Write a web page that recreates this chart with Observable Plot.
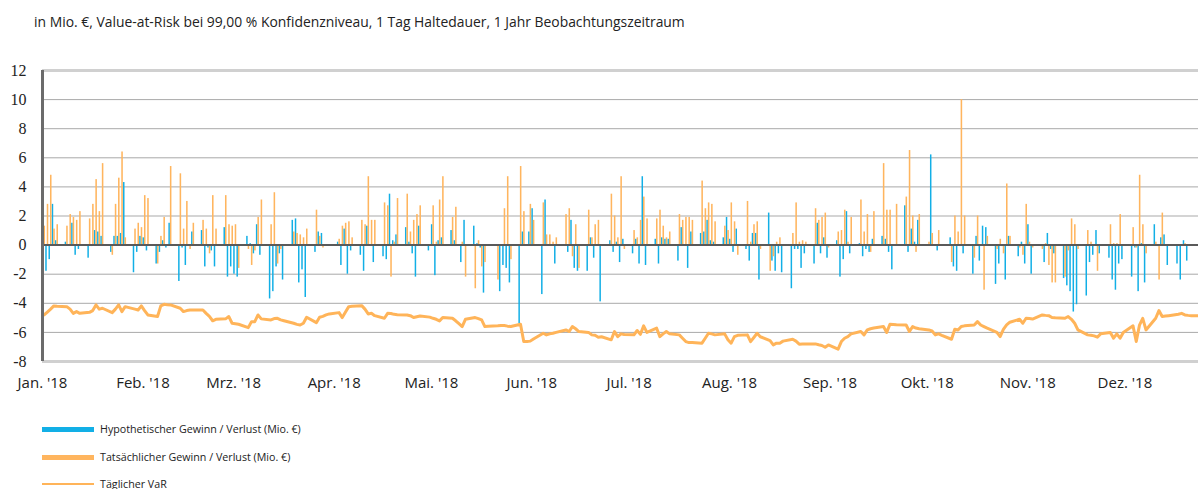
<!DOCTYPE html>
<html>
<head>
<meta charset="utf-8">
<script src="https://cdn.jsdelivr.net/npm/d3@7"></script>
<script src="https://cdn.jsdelivr.net/npm/@observablehq/plot@0.6"></script>
<style>
  html, body { margin: 0; padding: 0; background: #fff; }
  body { width: 1198px; height: 489px; overflow: hidden; font-family: "Open Sans", sans-serif; color: #222; }
  #title { height: 45px; box-sizing: border-box; padding: 12px 0 0 34px; font-size: 13.9px; white-space: nowrap; }
  #chart svg { display: block; overflow: hidden; }
  #legend { position: relative; height: 89px; font-size: 10.7px; }
  .row { position: absolute; left: 0; height: 20px; display: flex; align-items: center; }
  .sw { width: 52px; margin-left: 42px; margin-right: 6px; }
</style>
</head>
<body>
<div id="title">in Mio. €, Value-at-Risk bei 99,00 % Konfidenzniveau, 1 Tag Haltedauer, 1 Jahr Beobachtungszeitraum</div>
<div id="chart"></div>
<div id="legend"></div>
<script>
// ---- data (one value per weekday, Mon 1 Jan 2018 .. Fri 28 Dec 2018) ----
const hypothetisch = [
  -0.3,-1.8,-1.0,2.8,0.3,   0.2,0.0,1.5,-0.7,-0.3,   -0.9,-0.1,1.0,0.9,0.6,   -0.5,0.6,0.6,0.8,4.3,
  -1.9,-0.5,0.6,0.5,-0.4,   -1.3,-0.5,0.3,-0.2,1.5,  -2.5,-0.2,-1.4,0,0.9,    1.0,-1.5,-0.2,-0.4,-1.5,
  1.2,-2.2,-1.5,-2.0,-2.2,  0.6,0.1,-0.6,1.4,-0.7,   -3.7,-3.2,-1.5,-0.6,-2.4, 1.7,1.8,-2.6,-1.7,-3.6,
  -0.5,0.9,0.8,0,0,         0.2,-1.4,1.1,-2.0,-0.4,  -0.7,-1.8,1.3,0,-1.2,    -0.8,-1.0,3.5,0.3,0.7,
  1.2,0.2,-0.6,-2.2,1.3,    -0.4,1.4,-2.1,0.3,0.5,   1.0,0.3,0,-1.2,1.7,      1.3,0.1,-0.2,-3.3,0,
  0,-3.2,-1.4,-1.6,-2.6,    -5.4,0.9,0,0.9,2.5,      -3.4,3.1,0,0,-1.3,       0,-0.5,1.7,-1.6,-1.8,
  -1.8,0.5,-0.9,0,-3.9,     0.3,-0.5,0.2,-1.2,0.4,   -0.6,0.4,-1.3,4.7,-1.4,  0.4,-1.3,0.5,0.4,0.4,
  -1.1,1.2,0,-1.6,0.9,      0.8,0.9,1.7,0.3,0.2,     0.5,1.9,0.4,-0.5,1.1,    -0.3,-1.1,0.8,0.8,-2.4,
  2.2,-1.1,-1.8,-0.6,-1.9,  -3.0,-0.3,-0.3,-1.6,-0.6, -1.3,1.5,-0.6,0.5,-0.9, 0.3,-2.2,-1.0,2.3,-0.6,
  0.1,-0.8,-0.3,-0.5,0.4,   0.6,0.4,-0.5,-1.7,0,     2.7,-0.5,1.1,0.2,1.7,    0,6.2,0,-0.4,0,
  0.5,-1.5,-1.8,-0.1,-0.6,  -2.0,0.6,-1.1,1.3,1.2,   -2.7,-1.3,-0.1,-2.4,0.6, -0.8,0.2,-1.3,1.4,-2.0,
  -0.1,-1.2,0.8,-0.3,-0.6,  -2.3,-2.8,-3.2,-4.6,-4.1, -3.5,-1.2,-0.7,1.0,-0.6, -0.9,-2.4,-3.1,-1.3,-1.0,
  -2.2,-0.2,-3.2,0.1,-2.6,  1.4,-0.1,0.5,0.7,-1.4,   -1.3,-2.4,0.3,-1.1,0,    0,0,0,0,0
];
const tatsaechlich = [
  1.3,2.8,4.8,1.1,1.4,      1.3,2.1,1.9,1.7,2.3,     1.8,2.8,4.5,2.3,5.6,     -0.7,2.8,4.6,6.4,0.5,
  1.1,1.5,1.2,3.4,3.2,      -1.3,0.6,1.9,0,5.4,      4.9,1.1,3.0,-0.3,1.5,    1.7,1.1,-0.6,3.4,1.1,
  3.4,1.4,1.3,1.4,-1.6,     -0.3,-1.4,-0.4,1.9,3.1,  1.4,3.6,-1.3,-0.3,0,     0.9,0.8,0.7,0.5,1.1,
  2.4,0.6,-0.2,0,0,         0.4,1.3,1.5,1.6,0.5,     1.7,1.4,4.7,1.7,1.7,     2.9,2.7,-2.2,0.2,3.2,
  3.5,0.9,1.7,2.1,2.7,      0,2.7,0.2,3.1,4.7,       1.9,2.6,0,0.2,-2.2,      -3.0,0.3,-1.5,-1.2,0,
  -2.4,0,2.5,4.7,-1.0,      5.4,2.3,0,2.8,1.7,       2.9,0.7,0.7,0.2,0.5,     2.1,2.5,-0.8,1.4,-1.6,
  2.4,0.5,1.4,1.7,0,        3.5,2.0,0.5,4.7,-0.3,    1.0,0.5,1.7,3.3,1.8,     1.8,2.4,1.3,0.5,0.9,
  2.1,1.7,1.9,1.9,1.7,      4.4,2.5,2.9,2.8,1.6,     1.3,1.0,2.9,1.6,-0.7,    3.0,0.2,1.4,1.6,-0.3,
  -1.8,-0.8,0.2,0.5,-0.1,   0.8,2.9,0.2,0.3,0.2,     2.5,1.7,1.9,2.2,-0.2,    0.9,1.0,2.4,0.2,1.9,
  3.1,0.9,2.1,-0.5,2.3,     5.6,2.4,2.4,0,2.8,       3.3,6.5,2.0,-0.5,2.1,    0.2,0.8,0,1.0,0,
  -1.2,2.0,0.9,10.0,2.0,    -0.9,2.0,0.0,-3.1,0.6,   -0.3,0.4,-0.6,4.2,0.6,   -0.2,-0.7,2.8,0.2,-0.2,
  -0.3,0.1,-1.4,-2.6,-2.6,  -2.2,-0.4,1.8,1.4,-0.3,  1.0,0.2,0,-1.8,0,        1.4,0.1,0.1,2.1,0,
  1.2,-0.2,4.8,1.4,-0.6,    0.2,-2.4,2.2,0,0,        0,0,0.1,0,0,             0,0,0,0,0
];
const taeglicherVaR = [
  -4.8,-4.6,-4.4,-4.18,-4.2,     -4.23,-4.4,-4.69,-4.57,-4.69,  -4.62,-4.5,-4.11,-4.4,-4.34,   -4.64,-4.4,-4.11,-4.57,-4.23,
  -4.4,-4.46,-4.18,-4.5,-4.8,    -4.91,-4.18,-4.07,-4.1,-4.11,  -4.34,-4.57,-4.5,-4.46,-4.46,  -4.46,-4.69,-4.9,-5.2,-5.1,
  -5.07,-4.91,-5.37,-5.4,-5.44,  -5.67,-5.26,-5.26,-4.8,-5.07,  -5.14,-5.05,-5.03,-5.14,-5.2,  -5.37,-5.45,-5.49,-5.37,-4.96,
  -5.33,-4.96,-4.9,-4.8,-4.73,   -4.64,-4.98,-4.6,-4.23,-4.2,   -4.16,-4.4,-4.73,-4.69,-4.85,  -5.03,-4.69,-4.7,-4.76,-4.78,
  -4.8,-4.85,-4.98,-4.92,-4.87,  -4.95,-5.03,-5.1,-5.21,-4.98,  -5.03,-5.2,-5.4,-5.6,-5.1,     -4.98,-5.05,-5.14,-5.6,-5.58,
  -5.55,-5.53,-5.53,-5.57,-5.6,  -5.44,-6.63,-6.63,-6.6,-6.45,  -6.06,-6.17,-6.1,-6.06,-6.0,   -5.83,-5.94,-5.6,-5.75,-5.94,
  -6.0,-6.17,-6.2,-6.33,-6.3,    -6.51,-5.94,-6.29,-6.1,-6.15,  -6.17,-5.87,-6.13,-5.55,-6.0,  -5.71,-6.29,-6.1,-5.94,-6.1,
  -6.17,-6.4,-6.63,-6.7,-6.7,    -6.74,-6.4,-6.06,-6.1,-6.17,   -6.1,-6.5,-6.74,-6.29,-6.2,    -6.17,-6.63,-6.35,-6.06,-6.3,
  -6.56,-6.86,-6.74,-6.74,-6.6,  -6.47,-6.6,-6.81,-6.8,-6.8,    -6.79,-6.85,-6.9,-7.02,-6.86,  -7.15,-6.63,-6.4,-6.29,-6.1,
  -5.94,-6.17,-5.83,-5.75,-5.7,  -5.6,-6.0,-5.44,-5.45,-5.47,   -5.49,-5.94,-5.6,-5.7,-5.75,   -5.83,-5.9,-6.17,-6.1,-6.2,
  -6.47,-5.78,-5.83,-5.6,-5.55,  -5.49,-5.26,-5.49,-5.6,-5.71,  -6.0,-6.29,-5.8,-5.49,-5.3,    -5.1,-5.37,-5.03,-5.05,-5.08,
  -4.8,-4.83,-4.85,-4.98,-5.0,   -5.03,-4.91,-5.1,-5.37,-5.83,  -6.17,-6.2,-6.24,-6.33,-6.1,   -6.0,-6.4,-6.1,-6.4,-6.0,
  -5.55,-6.63,-5.5,-5.03,-5.83,  -5.03,-4.5,-4.91,-4.88,-4.85,  -4.75,-4.69,-4.8,-4.83,-4.85,  -4.85,-4.85,-4.85,-4.85,-4.85
];
const monthLabels = ["Jan. '18","Feb. '18","Mrz. '18","Apr. '18","Mai. '18","Jun. '18","Jul. '18","Aug. '18","Sep. '18","Okt. '18","Nov. '18","Dez. '18"];
const yTicks = [-8,-6,-4,-2,0,2,4,6,8,10,12];
const seriesNames = ["Hypothetischer Gewinn / Verlust (Mio. €)", "Tatsächlicher Gewinn / Verlust (Mio. €)", "Täglicher VaR"];

// ---- build table ----
const start = new Date(Date.UTC(2018, 0, 1));
const tradingDays = d3.utcDays(start, new Date(Date.UTC(2018, 11, 29))).filter(d => d.getUTCDay() !== 0 && d.getUTCDay() !== 6);
const table = tradingDays.map((date, i) => ({
  date,
  mid: d3.utcHour.offset(date, 12),
  hyp: hypothetisch[i],
  act: tatsaechlich[i],
  var: taeglicherVaR[i]
}));
const months = d3.utcMonths(start, new Date(Date.UTC(2019, 0, 1)));

const BLUE = "#12afe6", ORANGE = "#ffb55e", VARC = "#ffb459";

const chart = Plot.plot({
  width: 1198,
  height: 355,
  marginTop: 25,
  marginBottom: 39,
  marginLeft: 42,
  marginRight: 0,
  style: { background: "#fff", overflow: "hidden" },
  x: { type: "utc", domain: [start, new Date(Date.UTC(2018, 11, 23, 17))] },
  y: { domain: [-8, 12] },
  marks: [
    Plot.ruleY(yTicks.filter(t => t > -8 && t < 12 && t !== 0), { stroke: "#a9a9a9", strokeWidth: 1 }),
    Plot.ruleY([12, -8], { stroke: "#d0d0d0", strokeWidth: 3 }),
    Plot.rectY(table.filter(d => d.hyp !== 0), { x: "date", interval: d3.utcDay, y: "hyp", fill: BLUE, insetLeft: 0, insetRight: 1.75, clip: true }),
    Plot.rectY(table.filter(d => d.act !== 0), { x: "date", interval: d3.utcDay, y: "act", fill: ORANGE, insetLeft: 1.5, insetRight: 0.2, clip: true }),
    Plot.ruleY([0], { stroke: "#5a5a5a", strokeWidth: 2 }),
    Plot.line(table, { x: "mid", y: "var", stroke: VARC, strokeWidth: 3, strokeLinejoin: "round", clip: true }),
    Plot.ruleX([start], { stroke: "#6b6b6b", strokeWidth: 3 }),
    Plot.axisY(yTicks, { tickSize: 0, tickPadding: 16, fontSize: 16, fontFamily: "Liberation Serif, serif", fill: "#222", tickFormat: d => String(d) }),
    Plot.axisX(months, { tickSize: 0, tickPadding: 16, fontSize: 15, fontFamily: "Open Sans, sans-serif", fill: "#222", tickFormat: d => monthLabels[d.getUTCMonth()] })
  ]
});
document.getElementById("chart").appendChild(chart);

// ---- legend ----
const legend = document.getElementById("legend");
const styles = [
  { color: BLUE, h: 5, top: 19 },
  { color: ORANGE, h: 5, top: 47 },
  { color: VARC, h: 2.5, top: 74 }
];
seriesNames.forEach((name, i) => {
  const row = document.createElement("div");
  row.className = "row";
  row.style.top = styles[i].top + "px";
  const sw = document.createElement("span");
  sw.className = "sw";
  sw.style.height = styles[i].h + "px";
  sw.style.background = styles[i].color;
  const tx = document.createElement("span");
  tx.textContent = name;
  row.appendChild(sw);
  row.appendChild(tx);
  legend.appendChild(row);
});
</script>
</body>
</html>
